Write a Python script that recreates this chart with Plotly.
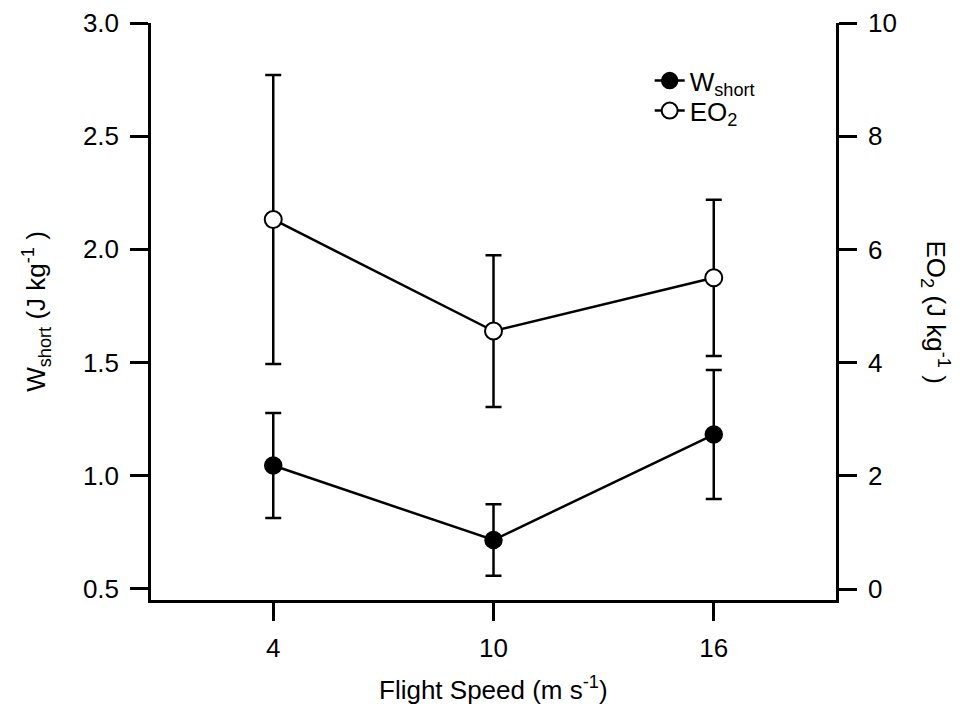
import plotly.graph_objects as go

speeds = [4, 10, 16]
x_ticks = [4, 10, 16]
w_short = [1.045, 0.716, 1.182]
w_short_err = [0.232, 0.158, 0.285]
eo2 = [6.53, 4.56, 5.50]
eo2_err = [2.55, 1.34, 1.38]

FONT = "Liberation Sans, Arial, sans-serif"
FS = 26

fig = go.Figure()
fig.add_trace(go.Scatter(
    x=speeds, y=w_short, name="W<sub>short</sub>", mode="lines+markers",
    line=dict(color="black", width=2.5),
    marker=dict(symbol="circle", size=17, color="black", line=dict(color="black", width=1.5)),
    error_y=dict(type="data", array=w_short_err, visible=True, color="black", thickness=2.5, width=8),
    yaxis="y", legend="legend",
))
fig.add_trace(go.Scatter(
    x=speeds, y=eo2, name="EO<sub>2</sub>", mode="lines+markers",
    line=dict(color="black", width=2.5),
    marker=dict(symbol="circle", size=17, color="white", line=dict(color="black", width=2)),
    error_y=dict(type="data", array=eo2_err, visible=True, color="black", thickness=2.5, width=8),
    yaxis="y2", legend="legend2",
))

axis_common = dict(
    showline=True, linecolor="black", linewidth=2.5, ticks="outside", ticklen=18,
    tickwidth=2.5, tickcolor="black", showgrid=False, zeroline=False,
    tickfont=dict(family=FONT, size=FS, color="black"),
)

legend_common = dict(xanchor="left", yanchor="middle", bgcolor="rgba(0,0,0,0)",
                     font=dict(family=FONT, size=FS), itemwidth=30)

fig.update_layout(
    width=964, height=713,
    margin=dict(l=151, r=128, t=23, b=113, autoexpand=False),
    paper_bgcolor="white", plot_bgcolor="white",
    font=dict(family=FONT, size=FS, color="black"),
    showlegend=True,
    legend=dict(x=0.728, y=0.90, **legend_common),
    legend2=dict(x=0.728, y=0.848, **legend_common),
    xaxis=dict(range=[0.67, 19.33], tickvals=x_ticks, ticktext=[str(v) for v in x_ticks],
               ticklabelstandoff=5,
               **axis_common),
    yaxis=dict(range=[0.451, 3.0], tickvals=[0.5, 1.0, 1.5, 2.0, 2.5, 3.0],
               ticktext=["0.5", "1.0", "1.5", "2.0", "2.5", "3.0"],
               ticklabelstandoff=6,
               title=dict(text="W<sub>short</sub> (J kg<sup>-1</sup> )", font=dict(family=FONT, size=FS), standoff=30),
               **axis_common),
    yaxis2=dict(range=[-0.19, 10.0], tickvals=[0, 2, 4, 6, 8, 10],
                overlaying="y", side="right", anchor="x",
                ticklabelstandoff=6,
                **axis_common),
    annotations=[
        dict(text="EO<sub>2</sub> (J kg<sup>-1</sup> )", textangle=90,
             xref="paper", yref="paper", x=1.0, y=0.5, xshift=100, showarrow=False,
             font=dict(family=FONT, size=FS, color="black"), xanchor="center", yanchor="middle"),
        dict(text="Flight Speed (m s<sup>-1</sup>)",
             xref="paper", yref="paper", x=0.5, y=0.0, yshift=-88, showarrow=False,
             font=dict(family=FONT, size=FS, color="black"), xanchor="center", yanchor="middle"),
    ],
)

fig.write_html("out.html")
